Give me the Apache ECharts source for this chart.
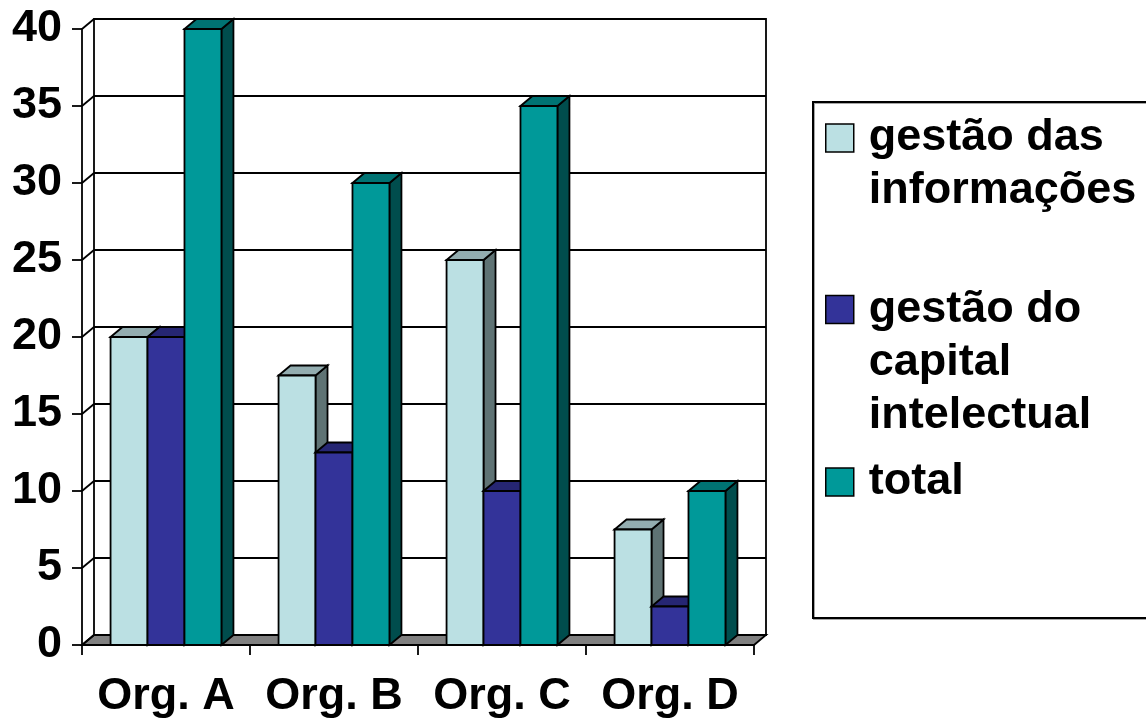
<!DOCTYPE html>
<html>
<head>
<meta charset="utf-8">
<script src="https://cdn.jsdelivr.net/npm/echarts@6/dist/echarts.min.js"></script>
<style>
  html, body { margin: 0; padding: 0; background: #ffffff; }
  #chart { width: 1146px; height: 719px; }
</style>
</head>
<body>
<div id="chart"></div>
<script>
// ---- data ----
const categories = ['Org. A', 'Org. B', 'Org. C', 'Org. D'];
const gestaoInformacoes = [20, 17.5, 25, 7.5];
const gestaoCapital = [20, 12.5, 10, 2.5];
const total = [40, 30, 35, 10];
const seriesNames = ['gestão das informações', 'gestão do capital intelectual', 'total'];
const legendLines = [['gestão das', 'informações'], ['gestão do', 'capital', 'intelectual'], ['total']];
const yTicks = [0, 5, 10, 15, 20, 25, 30, 35, 40];

// ---- styling ----
const FONT = '"Liberation Sans", Arial, Helvetica, sans-serif';
const DX = 12;           // depth offset to the right
const DY = 10;           // depth offset upwards
const BAR_SHARE = 0.22;  // bar width as a share of the category band
const LINE_H = 53;       // legend line height
const LW = 1.8;          // stroke width for edges and rules
const faces = [
  { front: '#BBE0E3', top: '#93ADB0', side: '#5F7374' },
  { front: '#333399', top: '#262673', side: '#1A1A4D' },
  { front: '#009999', top: '#007373', side: '#004D4D' }
];
const edge = { stroke: '#000000', lineWidth: LW, lineJoin: 'miter' };

// 3-D looking column: side face, top face, then front face
function columnRenderer(k) {
  return function (params, api) {
    const ci = api.value(0);
    const v = api.value(1);
    const base = api.coord([ci, 0]);
    const tip = api.coord([ci, v]);
    const band = api.size([1, 0])[0];
    const w = band * BAR_SHARE;
    const x0 = base[0] + (k - 1.5) * w;
    const x1 = x0 + w;
    const y0 = base[1];
    const y1 = tip[1];
    const f = faces[k];
    return {
      type: 'group',
      children: [
        { type: 'polygon', shape: { points: [[x1, y1], [x1 + DX, y1 - DY], [x1 + DX, y0 - DY], [x1, y0]] },
          style: Object.assign({ fill: f.side }, edge) },
        { type: 'polygon', shape: { points: [[x0, y1], [x0 + DX, y1 - DY], [x1 + DX, y1 - DY], [x1, y1]] },
          style: Object.assign({ fill: f.top }, edge) },
        { type: 'rect', shape: { x: x0, y: y1, width: w, height: y0 - y1 },
          style: Object.assign({ fill: f.front }, edge) }
      ]
    };
  };
}

// grey floor under the columns
function floorRenderer(params, api) {
  const cs = params.coordSys;
  const y0 = api.coord([0, 0])[1];
  return {
    type: 'polygon',
    shape: { points: [[cs.x, y0], [cs.x + cs.width, y0], [cs.x + cs.width + DX, y0 - DY], [cs.x + DX, y0 - DY]] },
    style: Object.assign({ fill: '#808080' }, edge)
  };
}

// short slanted strokes joining the value axis to the back wall
function connectorRenderer(params, api) {
  const cs = params.coordSys;
  const y = api.coord([0, api.value(1)])[1];
  return {
    type: 'line',
    shape: { x1: cs.x, y1: y, x2: cs.x + DX, y2: y - DY },
    style: { stroke: '#000000', lineWidth: LW }
  };
}

const valueSets = [gestaoInformacoes, gestaoCapital, total];
const iconCenters = [138, 309.5, 482];

const chart = echarts.init(document.getElementById('chart'), null, { renderer: 'canvas' });

// legend text: empty lines in front keep the first line level with the swatch
function legendText(lines) {
  return '\n'.repeat(lines.length - 1) + lines.join('\n');
}

const option = {
  animation: false,
  backgroundColor: '#ffffff',
  grid: [
    // back wall
    { left: 82 + DX, right: 392 - DX, top: 29 - DY, bottom: 74 + DY, show: true,
      backgroundColor: '#ffffff', borderColor: '#000000', borderWidth: LW },
    // front plane
    { left: 82, right: 392, top: 29, bottom: 74 }
  ],
  xAxis: [
    { gridIndex: 0, type: 'category', data: categories, show: false },
    { gridIndex: 1, type: 'category', data: categories, boundaryGap: true,
      axisLine: { show: true, lineStyle: { color: '#000000', width: LW } },
      axisTick: { show: true, length: 10, interval: 0, lineStyle: { color: '#000000', width: LW } },
      axisLabel: { interval: 0, margin: 29, color: '#000000', fontFamily: FONT, fontWeight: 'bold', fontSize: 45 },
      splitLine: { show: false } }
  ],
  yAxis: [
    { gridIndex: 0, type: 'value', min: 0, max: 40, interval: 5,
      axisLine: { show: false }, axisTick: { show: false }, axisLabel: { show: false },
      splitLine: { show: true, lineStyle: { color: '#000000', width: LW } } },
    { gridIndex: 1, type: 'value', min: 0, max: 40, interval: 5,
      axisLine: { show: true, lineStyle: { color: '#000000', width: LW } },
      axisTick: { show: true, length: 10, lineStyle: { color: '#000000', width: LW } },
      axisLabel: { margin: 20, color: '#000000', fontFamily: FONT, fontWeight: 'bold', fontSize: 45 },
      splitLine: { show: false } }
  ],
  legend: legendLines.map((lines, i) => ({
    data: [seriesNames[i]],
    orient: 'vertical',
    left: 825,
    top: iconCenters[i] - (2 * lines.length - 1) * LINE_H / 2,
    padding: 0,
    icon: 'rect',
    itemWidth: 28,
    itemHeight: 28,
    selectedMode: false,
    itemStyle: { borderColor: '#000000', borderWidth: 1.5 },
    formatter: () => legendText(lines),
    textStyle: {
      fontFamily: FONT, fontWeight: 'bold', fontSize: 45, lineHeight: LINE_H, color: '#000000',
      padding: [0, 0, 0, 10]
    }
  })),
  graphic: [
    { type: 'rect', left: 812, top: 101, z: -1,
      shape: { width: 345, height: 516 },
      style: { fill: '#ffffff', stroke: '#000000', lineWidth: 2,
               shadowColor: 'rgba(0,0,0,0.35)', shadowOffsetX: 1, shadowOffsetY: 1 } }
  ],
  series: [
    { type: 'custom', name: 'floor', xAxisIndex: 1, yAxisIndex: 1, z: 2, silent: true,
      renderItem: floorRenderer, data: [[0, 0]] },
    { type: 'custom', name: 'ticks', xAxisIndex: 1, yAxisIndex: 1, z: 2, silent: true,
      renderItem: connectorRenderer, data: yTicks.map(v => [0, v]) }
  ].concat(valueSets.map((vals, k) => ({
    type: 'custom',
    name: seriesNames[k],
    xAxisIndex: 1, yAxisIndex: 1, z: 3,
    itemStyle: { color: faces[k].front },
    encode: { x: 0, y: 1 },
    renderItem: columnRenderer(k),
    data: vals.map((v, i) => [i, v])
  })))
};

chart.setOption(option);
</script>
</body>
</html>
